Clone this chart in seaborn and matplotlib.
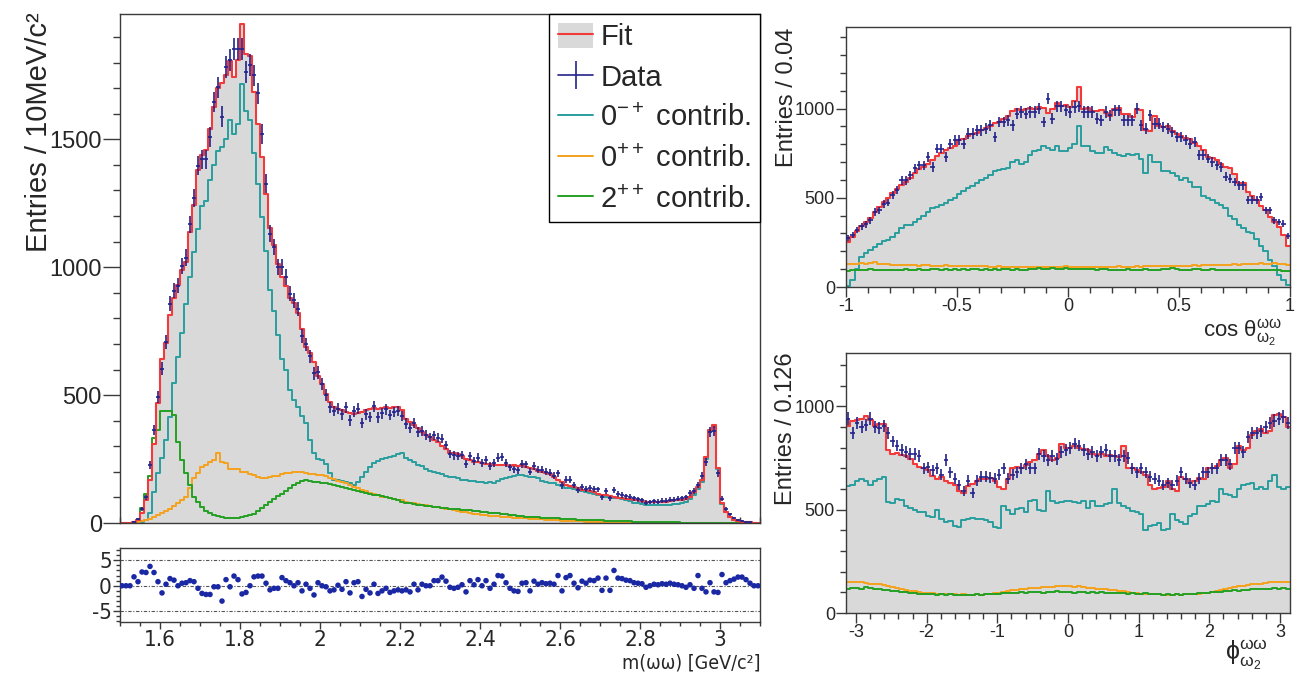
import os
import numpy as np
import pandas as pd
import matplotlib
matplotlib.use("Agg")
import matplotlib.pyplot as plt
import seaborn as sns
from matplotlib import font_manager
from matplotlib.font_manager import FontProperties
from matplotlib.lines import Line2D
from matplotlib.patches import Patch
from matplotlib.ticker import MultipleLocator

# ---------------- m(omega omega) spectrum, 10 MeV bins from 1.5 to 3.1 GeV ----------------
mass_range = (1.5, 3.1)
mass_fit = [0, 0, 0, 3, 12, 38, 90, 170, 308, 470,
            640, 705, 815, 878, 930, 990, 1020, 1138, 1245, 1380,
            1440, 1460, 1540, 1625, 1700, 1720, 1750, 1805, 1745, 1810,
            1950, 1835, 1825, 1685, 1560, 1430, 1285, 1155, 1085, 1012,
            960, 925, 880, 862, 820, 760, 690, 665, 630, 575,
            545, 505, 475, 455, 445, 440, 435, 430, 425, 430,
            435, 440, 445, 450, 445, 450, 455, 450, 455, 455,
            440, 405, 395, 385, 370, 355, 345, 335, 325, 315,
            300, 290, 275, 272, 268, 262, 250, 245, 240, 238,
            235, 232, 230, 228, 226, 228, 226, 224, 225, 222,
            225, 220, 215, 210, 205, 200, 195, 190, 180, 168,
            160, 150, 145, 142, 135, 130, 128, 125, 122, 115,
            110, 108, 105, 100, 98, 96, 94, 92, 90, 88,
            85, 83, 82, 82, 82, 83, 84, 86, 88, 88,
            90, 95, 103, 122, 142, 168, 259, 365, 383, 214,
            77, 44, 25, 12, 8, 5, 3, 2, 0, 0]
mass_data = [0, 0, 0, 5, 15, 55, 100, 227, 363, 493,
             604, 708, 858, 908, 928, 1006, 1038, 1168, 1272, 1396,
             1422, 1422, 1510, 1646, 1704, 1589, 1783, 1809, 1855, 1855,
             1855, 1764, 1790, 1750, 1680, 1522, 1327, 1131, 1079, 1001,
             1001, 962, 897, 871, 837, 732, 698, 652, 585, 589,
             545, 501, 453, 438, 447, 425, 452, 401, 437, 447,
             391, 425, 415, 456, 413, 429, 444, 422, 434, 438,
             419, 389, 371, 391, 355, 361, 345, 335, 343, 333,
             329, 305, 270, 264, 263, 265, 231, 261, 243, 256,
             235, 247, 222, 233, 256, 257, 235, 217, 210, 206,
             232, 229, 200, 223, 209, 208, 201, 197, 184, 194,
             147, 170, 169, 148, 130, 140, 134, 137, 133, 131,
             101, 124, 96, 130, 113, 110, 105, 102, 96, 93,
             89, 80, 82, 85, 84, 87, 87, 91, 91, 94,
             96, 100, 117, 125, 150, 185, 240, 355, 360, 195,
             95, 55, 35, 18, 13, 9, 5, 3, 0, 0]
mass_0mp = [0, 0, 0, 0, 0, 2, 12, 38, 122, 194,
            253, 324, 415, 546, 650, 741, 858, 960, 1060, 1150,
            1240, 1260, 1340, 1400, 1455, 1470, 1500, 1575, 1520, 1560,
            1715, 1610, 1575, 1445, 1325, 1195, 1065, 910, 830, 735,
            640, 600, 520, 480, 455, 420, 390, 325, 275, 250,
            245, 230, 195, 170, 168, 165, 160, 155, 148, 160,
            180, 200, 220, 235, 242, 250, 255, 258, 262, 268,
            272, 255, 245, 238, 228, 222, 210, 205, 198, 194,
            190, 185, 180, 178, 175, 170, 168, 165, 163, 160,
            160, 158, 160, 155, 165, 172, 175, 178, 182, 188,
            188, 185, 180, 178, 175, 165, 160, 158, 155, 150,
            145, 138, 135, 132, 128, 125, 120, 117, 114, 110,
            108, 103, 100, 98, 96, 92, 90, 86, 80, 78,
            76, 72, 70, 70, 70, 70, 72, 72, 74, 75,
            78, 84, 92, 110, 132, 160, 252, 360, 376, 212,
            75, 43, 24, 11, 7, 4, 2, 1, 0, 0]
mass_0pp = [0, 0, 0, 1, 4, 8, 12, 17, 22, 30,
            38, 45, 55, 65, 77, 90, 103, 135, 174, 194,
            220, 227, 240, 246, 272, 240, 233, 213, 213, 210,
            200, 200, 190, 187, 180, 174, 175, 180, 182, 185,
            190, 194, 196, 200, 200, 198, 194, 192, 190, 188,
            186, 182, 176, 172, 165, 160, 155, 148, 140, 135,
            128, 124, 118, 114, 108, 103, 100, 96, 92, 90,
            88, 84, 80, 78, 74, 72, 70, 66, 64, 62,
            60, 56, 53, 50, 46, 44, 42, 40, 37, 35,
            33, 31, 29, 27, 26, 25, 24, 22, 21, 20,
            19, 18, 17, 16, 15, 14, 13, 12, 11, 10,
            9, 8, 8, 7, 6, 6, 5, 5, 4, 4,
            3, 3, 3, 2, 2, 2, 2, 1, 1, 1,
            1, 1, 1, 1, 0, 0, 0, 0, 0, 0,
            0, 0, 0, 0, 0, 0, 0, 0, 0, 0,
            0, 0, 0, 0, 0, 0, 0, 0, 0, 0]
mass_2pp = [0, 0, 0, 1, 12, 57, 115, 185, 331, 363,
            437, 437, 437, 422, 318, 246, 194, 148, 103, 83,
            64, 48, 38, 30, 27, 22, 18, 18, 18, 20,
            24, 28, 31, 36, 45, 57, 70, 82, 94, 105,
            115, 126, 138, 148, 158, 165, 168, 166, 162, 160,
            158, 155, 152, 150, 146, 142, 138, 134, 130, 126,
            122, 118, 115, 111, 108, 105, 100, 96, 92, 88,
            83, 80, 77, 74, 72, 70, 68, 66, 64, 62,
            60, 58, 56, 54, 53, 52, 51, 49, 47, 45,
            43, 42, 40, 39, 38, 36, 34, 32, 30, 28,
            26, 25, 24, 23, 22, 21, 20, 19, 18, 18,
            17, 16, 15, 14, 13, 13, 12, 11, 11, 10,
            10, 9, 8, 8, 7, 7, 6, 6, 5, 5,
            5, 4, 4, 3, 3, 3, 2, 2, 2, 2,
            1, 1, 1, 1, 1, 0, 0, 0, 0, 0,
            0, 0, 0, 0, 0, 0, 0, 0, 0, 0]
mass_pull = [0, 0, 0, 1.75, 0.8, 2.7, 2.6, 3.8, 2.6, 0.8,
             -1.4, 0.3, 1.4, 1.1, 0.0, 0.5, 0.6, 1.0, 0.8, -0.5,
             -1.5, -1.7, -1.7, -0.2, -0.2, -3.0, 1.2, -0.2, 1.9, 1.2,
             -1.6, -1.3, 0.0, 1.75, 1.9, 1.9, 0.5, -0.8, -0.5, -0.5,
             1.6, 1.0, 0.6, 0.0, 0.6, -1.0, 0.3, -0.5, -1.8, 0.6,
             0.0, -0.2, -1.0, -0.8, 0.1, -0.7, 0.8, -1.4, 0.6, 0.8,
             -2.1, -0.7, -1.4, 0.3, -1.5, -1.0, -0.5, -1.3, -1.0, -0.8,
             -1.0, -0.8, -1.2, 0.3, -0.8, 0.3, 0.0, 0.0, 1.0, 1.0,
             1.7, 0.9, -0.3, -0.5, -0.3, 0.2, -1.2, 1.0, 0.2, 1.2,
             0.0, 1.0, -0.5, 0.3, 2.0, 1.9, 0.6, -0.5, -1.0, -1.1,
             0.5, 0.6, -1.0, 0.9, 0.3, 0.6, 0.4, 0.5, 0.3, 2.0,
             -1.0, 1.6, 2.0, 0.5, -0.4, 0.9, 0.5, 1.1, 1.0, 1.5,
             -0.9, 1.5, -0.9, 3.0, 1.5, 1.4, 1.1, 1.0, 0.6, 0.5,
             0.4, -0.3, 0.0, 0.3, 0.2, 0.4, 0.3, 0.5, 0.3, 0.2,
             0.0, -0.3, 0.2, -0.5, 2.0, -0.5, -1.2, 0.6, -1.2, -1.3,
             2.2, 0.6, 1.0, 1.3, 1.7, 1.7, 1.2, 0.5, 0.0, 0.0]

# ---------------- cos(theta) distribution, 100 bins on [-1, 1] ----------------
cos_range = (-1.0, 1.0)
cos_fit = [250, 282, 312, 340, 362, 385, 420, 450, 478, 500,
           525, 548, 570, 590, 612, 640, 660, 675, 692, 712,
           735, 750, 765, 780, 792, 822, 828, 845, 860, 865,
           878, 890, 905, 918, 925, 940, 960, 985, 1000, 990,
           998, 1002, 1000, 1008, 1003, 975, 1000, 1030, 1012, 1020,
           1010, 1045, 1118, 1000, 1005, 985, 985, 990, 975, 958,
           1000, 1005, 970, 968, 955, 1000, 990, 880, 875, 960,
           905, 895, 900, 875, 860, 845, 835, 830, 805, 790,
           770, 730, 725, 710, 690, 670, 665, 635, 580, 585,
           530, 510, 490, 455, 430, 395, 365, 335, 290, 230]
cos_data = [277, 290, 318, 340, 351, 374, 420, 430, 467, 473,
            514, 542, 598, 598, 626, 665, 682, 682, 729, 673,
            776, 776, 729, 800, 822, 822, 804, 860, 860, 878,
            878, 888, 906, 841, 925, 925, 935, 906, 972, 981,
            972, 981, 981, 1000, 925, 1056, 944, 1013, 1013, 991,
            981, 1009, 1013, 981, 981, 981, 944, 935, 981, 963,
            991, 991, 935, 935, 935, 1000, 906, 888, 963, 916,
            916, 897, 888, 869, 841, 841, 822, 804, 813, 738,
            738, 720, 701, 682, 673, 617, 607, 589, 570, 570,
            486, 486, 486, 505, 430, 430, 374, 364, 355, 285]
cos_0mp = [5, 40, 100, 170, 190, 210, 225, 240, 255, 265,
           280, 300, 330, 350, 350, 365, 380, 400, 420, 440,
           450, 460, 470, 490, 500, 520, 540, 555, 565, 580,
           600, 610, 630, 650, 655, 660, 665, 700, 710, 690,
           700, 740, 760, 765, 790, 780, 770, 790, 760, 760,
           780, 800, 900, 790, 790, 760, 750, 750, 785, 770,
           750, 740, 735, 745, 740, 745, 720, 640, 740, 700,
           700, 650, 650, 640, 620, 600, 610, 590, 560, 560,
           510, 500, 490, 470, 460, 440, 400, 380, 350, 330,
           310, 300, 270, 230, 200, 150, 120, 70, 40, 10]
cos_0pp = [130, 128, 130, 132, 128, 135, 140, 128, 130, 128,
           125, 126, 124, 122, 125, 124, 120, 122, 124, 120,
           118, 120, 122, 118, 120, 116, 118, 115, 118, 115,
           116, 115, 112, 114, 115, 112, 114, 110, 112, 113,
           112, 110, 112, 113, 110, 114, 112, 110, 112, 115,
           112, 114, 112, 110, 113, 112, 110, 112, 114, 112,
           113, 115, 112, 114, 112, 116, 114, 115, 116, 118,
           115, 118, 118, 120, 118, 116, 118, 120, 122, 120,
           122, 124, 122, 125, 126, 124, 125, 128, 126, 128,
           128, 130, 128, 132, 130, 128, 132, 130, 128, 125]
cos_2pp = [92, 95, 96, 94, 98, 100, 95, 93, 98, 97,
           96, 98, 95, 100, 98, 97, 100, 95, 98, 102,
           100, 98, 102, 96, 100, 98, 100, 97, 102, 100,
           98, 100, 96, 100, 98, 102, 100, 98, 100, 96,
           98, 100, 102, 104, 100, 102, 105, 103, 100, 104,
           103, 101, 102, 100, 99, 100, 98, 100, 102, 96,
           98, 94, 96, 100, 98, 96, 98, 100, 97, 98,
           96, 100, 102, 104, 100, 98, 96, 98, 100, 102,
           98, 96, 100, 98, 96, 98, 95, 96, 94, 95,
           96, 94, 96, 95, 94, 95, 93, 94, 92, 92]

# ---------------- phi distribution, 100 bins on [-pi, pi] ----------------
phi_range = (-np.pi, np.pi)
phi_fit = [905, 930, 935, 940, 952, 935, 905, 915, 915, 790,
           770, 775, 765, 760, 745, 720, 705, 700, 690, 665,
           650, 660, 640, 630, 620, 590, 580, 615, 625, 640,
           650, 650, 655, 640, 610, 600, 650, 700, 705, 700,
           715, 730, 740, 770, 790, 760, 740, 750, 820, 800,
           800, 810, 800, 795, 790, 770, 765, 770, 760, 765,
           760, 755, 810, 700, 700, 690, 680, 670, 620, 600,
           605, 610, 640, 600, 590, 660, 650, 630, 640, 655,
           650, 700, 700, 710, 740, 750, 700, 720, 810, 790,
           800, 860, 880, 890, 870, 880, 960, 965, 950, 900]
phi_data = [940, 870, 920, 900, 910, 940, 900, 895, 905, 870,
            830, 810, 790, 780, 770, 770, 760, 700, 705, 690,
            700, 670, 740, 680, 650, 620, 590, 640, 580, 640,
            660, 660, 655, 650, 670, 700, 650, 670, 680, 700,
            720, 700, 700, 770, 760, 740, 760, 745, 780, 790,
            800, 820, 810, 790, 770, 780, 760, 780, 790, 760,
            760, 740, 760, 750, 700, 680, 700, 680, 660, 650,
            640, 620, 630, 620, 640, 680, 650, 630, 620, 650,
            680, 680, 700, 700, 740, 740, 720, 800, 800, 780,
            850, 870, 870, 880, 900, 920, 930, 940, 950, 920]
phi_0mp = [615, 620, 640, 650, 640, 620, 640, 650, 660, 535,
           530, 550, 545, 520, 510, 500, 490, 490, 470, 465,
           500, 455, 440, 445, 420, 415, 450, 455, 460, 455,
           455, 450, 440, 415, 410, 520, 500, 480, 505, 510,
           490, 540, 545, 500, 495, 590, 540, 530, 535, 540,
           540, 535, 530, 540, 510, 540, 520, 520, 525, 530,
           600, 530, 520, 510, 495, 490, 480, 400, 420, 425,
           435, 400, 405, 480, 450, 440, 430, 470, 480, 520,
           520, 525, 540, 535, 600, 575, 570, 560, 600, 620,
           625, 630, 600, 610, 600, 640, 670, 610, 600, 610]
phi_0pp = [152, 150, 148, 150, 145, 140, 140, 138, 135, 130,
           125, 122, 118, 112, 108, 105, 100, 98, 96, 95,
           94, 92, 92, 90, 90, 88, 90, 88, 88, 90,
           88, 90, 92, 95, 95, 100, 105, 110, 112, 115,
           118, 120, 122, 122, 125, 128, 128, 130, 132, 130,
           130, 128, 130, 125, 122, 120, 118, 118, 115, 112,
           110, 108, 105, 102, 98, 95, 93, 92, 90, 90,
           90, 88, 88, 88, 90, 88, 90, 92, 90, 92,
           95, 98, 102, 108, 112, 118, 122, 126, 130, 132,
           135, 138, 140, 142, 145, 148, 150, 150, 152, 152]
phi_2pp = [115, 120, 122, 118, 125, 120, 118, 115, 112, 110,
           108, 105, 102, 100, 98, 95, 92, 92, 90, 90,
           88, 90, 88, 90, 86, 88, 85, 88, 88, 90,
           88, 90, 92, 90, 92, 95, 95, 98, 96, 100,
           98, 100, 102, 100, 98, 102, 100, 105, 100, 102,
           100, 98, 100, 102, 98, 100, 98, 100, 96, 98,
           98, 95, 96, 94, 95, 92, 94, 95, 90, 92,
           90, 88, 90, 88, 90, 88, 90, 92, 92, 95,
           95, 98, 100, 100, 102, 105, 108, 110, 108, 112,
           112, 115, 115, 118, 115, 118, 120, 118, 120, 118]

legend_labels = ["Fit", "Data", "0$^{-+}$ contrib.", "0$^{++}$ contrib.", "2$^{++}$ contrib."]
pull_ticks = [1.6, 1.8, 2.0, 2.2, 2.4, 2.6, 2.8, 3.0]

# ---------------- style ----------------
sns.set_theme(style="ticks")

SANS = "Liberation Sans"
plt.rcParams["font.family"] = [SANS, "DejaVu Sans"]
plt.rcParams["axes.unicode_minus"] = False
plt.rcParams["mathtext.fontset"] = "custom"
plt.rcParams["mathtext.rm"] = SANS
plt.rcParams["mathtext.it"] = SANS
plt.rcParams["mathtext.bf"] = SANS


def narrow_font_file():
    """Find an installed condensed/narrow upright sans face."""
    found = []
    for f in font_manager.fontManager.ttflist:
        base = os.path.basename(f.fname)
        low = base.lower()
        if ("narrow" in low or "condensed" in low) and not any(
                k in low for k in ("bold", "italic", "oblique", "light", "semi", "extra", "black", "thin", "medium")):
            found.append((f.name, f.fname))
    for pref in ("Liberation Sans Narrow", "Liberation", "DejaVu Sans", "Roboto", "Noto Sans", "Open Sans"):
        for name, path in found:
            if name.startswith(pref) or os.path.basename(path).startswith(pref.replace(" ", "")):
                return path
    return found[0][1] if found else None


_narrow = narrow_font_file()


def narrow_props(size):
    if _narrow:
        return FontProperties(fname=_narrow, size=size)
    return FontProperties(family=SANS, size=size * 0.9)


FILL = "#d9d9d9"
RED = "#f23a3a"
TEAL = "#2a9e9e"
ORANGE = "#f5a11c"
GREEN = "#24a024"
NAVY = "#22228c"
DOT = "#1b28a3"
FRAME = "#3a3a3a"

W, H = 1302, 674
fig = plt.figure(figsize=(W / 100, H / 100), dpi=100)


def px_box(left, top, right, bottom):
    return [left / W, 1 - bottom / H, (right - left) / W, (bottom - top) / H]


ax_m = fig.add_axes(px_box(120, 14, 760, 523))
ax_r = fig.add_axes(px_box(120, 548, 760, 622))
ax_c = fig.add_axes(px_box(846, 27, 1290, 287))
ax_p = fig.add_axes(px_box(846, 353, 1290, 613))


def step_hist(ax, centers, values, rng, **kws):
    frame = pd.DataFrame({"x": centers, "w": np.asarray(values, dtype=float)})
    sns.histplot(data=frame, x="x", weights="w", bins=len(centers), binrange=rng,
                 element="step", ax=ax, **kws)


def draw_panel(ax, rng, fit, data, c0mp, c0pp, c2pp):
    n = len(fit)
    edges = np.linspace(rng[0], rng[1], n + 1)
    centers = 0.5 * (edges[1:] + edges[:-1])
    half = 0.5 * (edges[1] - edges[0])
    step_hist(ax, centers, fit, rng, fill=True, color=FILL, alpha=1.0, linewidth=0)
    for vals, col in ((c0mp, TEAL), (c0pp, ORANGE), (c2pp, GREEN)):
        step_hist(ax, centers, vals, rng, fill=False, color=col, linewidth=1.4)
    step_hist(ax, centers, fit, rng, fill=False, color=RED, linewidth=1.5)
    d = np.asarray(data, dtype=float)
    m = d > 0
    ax.errorbar(centers[m], d[m], xerr=half, yerr=np.sqrt(d[m]), fmt="none",
                ecolor=NAVY, elinewidth=1.2, capsize=0, zorder=5)
    ax.set_xlim(*rng)
    ax.set_xlabel("")
    ax.set_ylabel("")
    for sp in ax.spines.values():
        sp.set_visible(True)
        sp.set_color(FRAME)
        sp.set_linewidth(1.0)


draw_panel(ax_m, mass_range, mass_fit, mass_data, mass_0mp, mass_0pp, mass_2pp)
draw_panel(ax_c, cos_range, cos_fit, cos_data, cos_0mp, cos_0pp, cos_2pp)
draw_panel(ax_p, phi_range, phi_fit, phi_data, phi_0mp, phi_0pp, phi_2pp)

# main panel axes
ax_m.set_ylim(0, 1990)
ax_m.xaxis.set_major_locator(MultipleLocator(0.2))
ax_m.xaxis.set_minor_locator(MultipleLocator(0.05))
ax_m.yaxis.set_major_locator(MultipleLocator(500))
ax_m.yaxis.set_minor_locator(MultipleLocator(100))
ax_m.tick_params(axis="x", which="both", direction="in", labelbottom=False, color=FRAME)
ax_m.tick_params(axis="x", which="major", length=7, width=1)
ax_m.tick_params(axis="x", which="minor", length=4, width=1)
ax_m.tick_params(axis="y", which="both", direction="out", color=FRAME, labelsize=17, pad=1)
ax_m.tick_params(axis="y", which="major", length=12, width=1)
ax_m.tick_params(axis="y", which="minor", length=5, width=1)

# legend
fit_handle = (Patch(facecolor=FILL, edgecolor="none"), Line2D([], [], color=RED, lw=1.5))
data_handle = Line2D([], [], color=NAVY, lw=1.2, marker="|", markersize=20, markeredgewidth=1.2)
handles = [fit_handle, data_handle,
           Line2D([], [], color=TEAL, lw=1.4),
           Line2D([], [], color=ORANGE, lw=1.4),
           Line2D([], [], color=GREEN, lw=1.4)]
leg = ax_m.legend(handles, legend_labels, loc="upper right", bbox_to_anchor=(1.0, 1.0),
                  borderaxespad=0, fontsize=21, frameon=True, fancybox=False,
                  edgecolor="black", framealpha=1, handlelength=1.2, handleheight=0.95,
                  handletextpad=0.25, labelspacing=0.41, borderpad=0.3, numpoints=1)
leg.get_frame().set_linewidth(1.0)

# residual panel
edges_m = np.linspace(mass_range[0], mass_range[1], len(mass_pull) + 1)
centers_m = 0.5 * (edges_m[1:] + edges_m[:-1])
for yv in (5, 0, -5):
    ax_r.axhline(yv, color="#555555", lw=0.8, ls=(0, (3, 1.5, 1, 1.5)), zorder=1)
sns.scatterplot(x=centers_m, y=mass_pull, ax=ax_r, color=DOT, s=16, edgecolor="none", zorder=3)
ax_r.set_xlabel("")
ax_r.set_ylabel("")
ax_r.xaxis.set_minor_locator(MultipleLocator(0.05))
ax_r.yaxis.set_minor_locator(MultipleLocator(1))
ax_r.tick_params(axis="both", which="both", direction="out", color=FRAME, pad=1)
ax_r.tick_params(axis="both", which="major", length=5, width=1)
ax_r.tick_params(axis="both", which="minor", length=3, width=1)
ax_r.set_xticks(pull_ticks)
ax_r.set_xticklabels(["%g" % v for v in pull_ticks], fontproperties=narrow_props(16))
ax_r.set_yticks([-5, 0, 5])
ax_r.set_yticklabels(["-5", "0", "5"], fontproperties=narrow_props(16))
ax_r.set_xlim(*mass_range)
ax_r.set_ylim(-7.1, 7.4)
for sp in ax_r.spines.values():
    sp.set_visible(True)
    sp.set_color(FRAME)
    sp.set_linewidth(1.0)

# angular panels
ax_c.set_ylim(0, 1457)
ax_c.xaxis.set_minor_locator(MultipleLocator(0.1))
ax_p.set_ylim(0, 1258)
ax_p.xaxis.set_minor_locator(MultipleLocator(0.2))
for ax in (ax_c, ax_p):
    ax.yaxis.set_major_locator(MultipleLocator(500))
    ax.yaxis.set_minor_locator(MultipleLocator(100))
    ax.tick_params(axis="both", which="both", direction="out", color=FRAME, labelsize=13, pad=1)
    ax.tick_params(axis="both", which="major", length=7, width=1)
    ax.tick_params(axis="both", which="minor", length=4, width=1)
ax_c.set_xticks([-1, -0.5, 0, 0.5, 1])
ax_c.set_xticklabels(["-1", "-0.5", "0", "0.5", "1"])
ax_p.set_xticks([-3, -2, -1, 0, 1, 2, 3])
ax_p.set_xticklabels(["-3", "-2", "-1", "0", "1", "2", "3"])
ax_c.set_xlim(*cos_range)
ax_p.set_xlim(*phi_range)

# axis titles
fig.text(39 / W, 1 - 12 / H, "Entries / 10MeV/c\u00b2", rotation=90, ha="center", va="top", fontsize=21)
fig.text(787 / W, 1 - 28 / H, "Entries / 0.04", rotation=90, ha="center", va="top", fontsize=17)
fig.text(786 / W, 1 - 352 / H, "Entries / 0.126", rotation=90, ha="center", va="top", fontsize=17)
fig.text(1282 / W, 1 - 333 / H, r"cos $\mathrm{\theta}^{\mathrm{\omega\omega}}_{\mathrm{\omega_{2}}}$",
         ha="right", va="center", fontsize=16)
fig.text(1268 / W, 1 - 655 / H, r"$\mathrm{\phi}^{\mathrm{\omega\omega}}_{\mathrm{\omega_{2}}}$",
         ha="right", va="center", fontsize=18)
fig.text(760 / W, 1 - 663 / H, "m(\u03c9\u03c9) [GeV/c\u00b2]", ha="right", va="center",
         fontproperties=narrow_props(14))

fig.savefig("out.png", dpi=100, facecolor="white")
